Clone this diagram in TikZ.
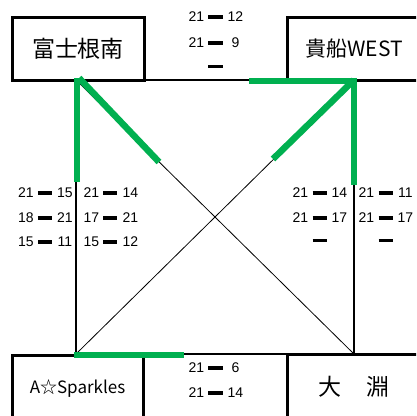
\documentclass[tikz,border=0pt]{standalone}
\usepackage{fontspec}
\setmainfont{Liberation Sans}
\newfontfamily\jpfont{Noto Sans CJK JP}
\definecolor{exgreen}{RGB}{0,176,80}
\newcommand{\scoreline}[2]{\makebox[14pt][c]{#1}\hspace{5pt}\rule[2.8pt]{14pt}{3.6pt}\hspace{6pt}\makebox[14pt][c]{#2}}
\begin{document}
\begin{tikzpicture}[x=1pt,y=-1pt,
  teambox/.style={draw=black, line width=3pt, fill=white, inner sep=0pt},
  sqline/.style={draw=black, line width=1.8pt},
  diagline/.style={draw=black, line width=0.8pt},
  winline/.style={draw=exgreen, line width=6.5pt},
  score/.style={inner sep=0pt, font=\fontsize{14}{15}\selectfont}]
\useasboundingbox (0,0) rectangle (416,416);
\clip (0,0) rectangle (416,416);
% corners of the square
\coordinate (TL) at (76,80);
\coordinate (TR) at (354,80);
\coordinate (BL) at (76,354);
\coordinate (BR) at (354,354);
% square and diagonals
\draw[sqline] (TL) -- (TR) -- (BR) -- (BL) -- cycle;
\draw[diagline] (TL) -- (BR);
\draw[diagline] (BL) -- (TR);
% team boxes
\node[teambox, minimum width=132pt, minimum height=63pt, font=\jpfont\fontsize{23}{25}\selectfont] (fuji) at (78,48.5) {富士根南};
\node[teambox, minimum width=134pt, minimum height=63pt, font=\jpfont\fontsize{21}{23}\selectfont] (kibune) at (354,48.5) {貴船WEST};
\node[teambox, minimum width=131pt, minimum height=66pt, font=\jpfont\fontsize{17}{19}\selectfont] (spark) at (77.5,388) {A☆Sparkles};
\node[teambox, minimum width=134pt, minimum height=66pt, font=\jpfont\fontsize{23}{25}\selectfont] (obuchi) at (354,387) {大\hspace{1.1em}淵};
% scores
\node[score] (s1) at (216,17) {\scoreline{21}{12}};
\node[score] (s2) at (216,43) {\scoreline{21}{9}};
\node[score] (s3) at (216,68) {\scoreline{}{}};
\node[score] (l1a) at (45.5,193) {\scoreline{21}{15}};
\node[score] (l2a) at (45.5,218) {\scoreline{18}{21}};
\node[score] (l3a) at (45.5,242) {\scoreline{15}{11}};
\node[score] (l1b) at (111,193) {\scoreline{21}{14}};
\node[score] (l2b) at (111,218) {\scoreline{17}{21}};
\node[score] (l3b) at (111,242) {\scoreline{15}{12}};
\node[score] (r1a) at (320,193) {\scoreline{21}{14}};
\node[score] (r2a) at (320,218) {\scoreline{21}{17}};
\node[score] (r3a) at (320,242) {\scoreline{}{}};
\node[score] (r1b) at (386,193) {\scoreline{21}{11}};
\node[score] (r2b) at (386,218) {\scoreline{21}{17}};
\node[score] (r3b) at (386,242) {\scoreline{}{}};
\node[score] (b1) at (216,368) {\scoreline{21}{6}};
\node[score] (b2) at (216,393) {\scoreline{21}{14}};
% winner marks
\coordinate (gTLv) at (77,182);
\coordinate (gTLd) at (159,162);
\coordinate (gTLtop) at (77,78);
\coordinate (gTRh) at (249,81);
\coordinate (gTRc) at (354,81);
\coordinate (gTRv) at (354,185);
\coordinate (gTRd) at (273,159);
\coordinate (gBLs) at (74,355);
\coordinate (gBLe) at (184,355);
\draw[winline] (gTLtop) -- (gTLv);
\draw[winline] (gTLtop) ++(2,0) -- (gTLd);
\draw[winline, line join=miter] (gTRh) -- (gTRc) -- (gTRv);
\draw[winline] (TR) -- (gTRd);
\draw[winline] (gBLs) -- (gBLe);
\end{tikzpicture}
\end{document}
